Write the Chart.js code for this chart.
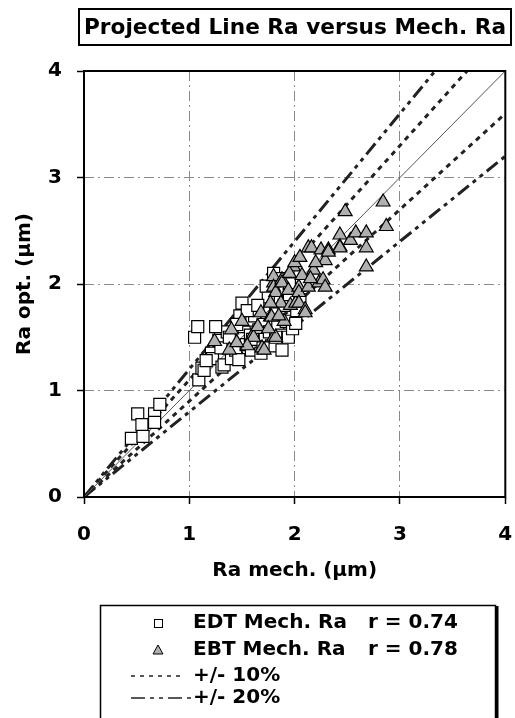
<!DOCTYPE html>
<html>
<head>
<meta charset="utf-8">
<script src="https://cdn.jsdelivr.net/npm/chart.js@4"></script>
<style>
  html, body { margin: 0; padding: 0; background: #fff; }
  #wrap { width: 515px; height: 718px; position: relative; }
</style>
</head>
<body>
<div id="wrap"><canvas id="grafica"></canvas></div>
<script>
const tituloTexto = 'Projected Line Ra versus Mech. Ra';
const ejeX = 'Ra mech. (µm)';
const ejeY = 'Ra opt. (µm)';
const ticks = [0, 1, 2, 3, 4];

// EDT (squares)
const edtX = [0.45, 0.51, 0.55, 0.56, 0.67, 0.67, 0.72,
  1.05, 1.08, 1.09, 1.12, 1.14, 1.21, 1.22, 1.28, 1.31, 1.33, 1.36, 1.40, 1.44, 1.44, 1.47, 1.50, 1.52, 1.54,
  1.57, 1.58, 1.59, 1.62, 1.62, 1.66, 1.68, 1.70, 1.72, 1.75, 1.76, 1.78, 1.80, 1.82, 1.84, 1.86, 1.88, 1.88,
  1.90, 1.92, 1.94, 1.95, 1.98, 2.01, 2.02, 1.25, 1.30, 1.38, 1.48, 1.55, 1.65, 1.73, 1.16, 1.45, 1.60, 1.70,
  1.82, 1.95, 2.05, 1.85];
const edtY = [0.55, 0.78, 0.68, 0.57, 0.78, 0.70, 0.87,
  1.50, 1.60, 1.10, 1.21, 1.19, 1.35, 1.30, 1.47, 1.22, 1.24, 1.55, 1.30, 1.41, 1.38, 1.29, 1.82, 1.60, 1.43,
  1.66, 1.52, 1.38, 1.45, 1.70, 1.57, 1.35, 1.62, 1.48, 1.88, 1.55, 1.42, 2.10, 1.72, 1.60, 1.95, 1.38, 1.52,
  1.80, 1.65, 1.50, 2.00, 1.58, 1.63, 1.75, 1.60, 1.40, 1.50, 1.70, 1.75, 1.80, 1.98, 1.28, 1.62, 1.48, 1.40,
  1.50, 1.90, 1.85, 2.05];

// EBT (triangles)
const ebtX = [1.24, 1.38, 1.40, 1.59, 1.61, 1.68, 1.69, 1.71, 1.77, 1.78, 1.80, 1.82, 1.80, 1.80, 1.80, 1.82,
  1.87, 1.77, 1.88, 1.88, 1.94, 1.96, 1.99, 2.01, 2.04, 2.04, 2.04, 2.07, 2.10, 2.10, 2.13, 2.13, 2.16, 2.18,
  2.23, 2.25, 2.27, 2.29, 2.29, 2.32, 2.32, 2.43, 2.43, 2.43, 2.48, 2.53, 2.58, 2.68, 2.68, 2.68, 2.84, 2.87,
  1.50, 1.55, 1.65, 1.90, 1.95, 2.00, 2.05, 2.20, 1.85, 1.75, 1.45, 2.15];
const ebtY = [1.46, 1.38, 1.57, 1.50, 1.50, 1.73, 1.40, 1.38, 1.69, 1.69, 1.50, 1.50, 2.01, 2.07, 1.97, 1.92,
  1.82, 1.82, 2.04, 2.01, 1.94, 1.80, 2.16, 1.82, 1.97, 1.92, 1.82, 2.08, 1.76, 1.73, 2.34, 1.97, 2.34, 2.13,
  2.01, 2.32, 2.04, 2.22, 1.97, 2.32, 2.30, 2.46, 2.35, 2.34, 2.68, 2.41, 2.48, 2.48, 2.34, 2.16, 2.77, 2.54,
  1.65, 1.42, 1.60, 1.65, 2.10, 2.20, 2.25, 2.20, 1.70, 1.58, 1.45, 2.05];

// reference lines (end points)
const lineaX = [0, 4];
const diagonalY = [0, 4];
const mas10Y = [0, 4.4];
const menos10Y = [0, 3.6];
const mas20Y = [0, 4.8];
const menos20Y = [0, 3.2];

const leyendaTextos = ['EDT Mech. Ra', 'EBT Mech. Ra', '+/- 10%', '+/- 20%'];
const leyendaR = ['r = 0.74', 'r = 0.78'];

const FUENTE = '"DejaVu Sans", "Liberation Sans", Arial, sans-serif';
const pares = (xs, ys) => xs.map((x, i) => ({ x: x, y: ys[i] }));

const dash10 = [5, 5];
const dash20 = [14, 5, 4, 5, 4, 5];

function linea(ys, dash, ancho, color, orden) {
    return {
        data: pares(lineaX, ys),
        showLine: true,
        pointRadius: 0,
        borderColor: color,
        borderWidth: ancho,
        borderDash: dash,
        order: orden
    };
}

const decoracion = {
    id: 'decoracion',
    afterDraw(chart) {
        const { ctx, chartArea: a } = chart;
        ctx.save();
        ctx.strokeStyle = '#000';
        ctx.fillStyle = '#000';

        // title box
        ctx.lineWidth = 2;
        ctx.strokeRect(79, 9, 432, 36);
        ctx.font = 'bold 22px ' + FUENTE;
        ctx.textAlign = 'center';
        ctx.textBaseline = 'middle';
        ctx.fillText(tituloTexto, 295, 28, 422);

        // plot frame
        ctx.lineWidth = 2;
        ctx.strokeRect(a.left, a.top, a.right - a.left, a.bottom - a.top);

        // legend box
        ctx.lineWidth = 1.5;
        ctx.strokeRect(100.5, 605.5, 395, 130);
        ctx.lineWidth = 3;
        ctx.beginPath();
        ctx.moveTo(497, 606);
        ctx.lineTo(497, 718);
        ctx.stroke();

        const filas = [623, 650, 676, 698];
        ctx.font = 'bold 20px ' + FUENTE;
        ctx.textAlign = 'left';
        leyendaTextos.forEach((t, i) => ctx.fillText(t, 193, filas[i]));
        leyendaR.forEach((t, i) => ctx.fillText(t, 368, filas[i]));

        // square marker
        ctx.lineWidth = 1;
        ctx.fillStyle = '#fff';
        ctx.fillRect(154, filas[0] - 4, 8, 8);
        ctx.strokeRect(154.5, filas[0] - 3.5, 8, 8);
        // triangle marker
        ctx.fillStyle = '#b0b0b0';
        ctx.beginPath();
        ctx.moveTo(158, filas[1] - 5);
        ctx.lineTo(163, filas[1] + 4);
        ctx.lineTo(153, filas[1] + 4);
        ctx.closePath();
        ctx.fill();
        ctx.stroke();

        // line markers
        ctx.strokeStyle = '#222';
        ctx.lineWidth = 1.5;
        ctx.setLineDash([4, 5]);
        ctx.beginPath();
        ctx.moveTo(131, filas[2]);
        ctx.lineTo(184, filas[2]);
        ctx.stroke();
        ctx.setLineDash([14, 5, 4, 5, 4, 5]);
        ctx.beginPath();
        ctx.moveTo(131, filas[3]);
        ctx.lineTo(192, filas[3]);
        ctx.stroke();
        ctx.restore();
    }
};

const colorGrid = c => (c.tick && (c.tick.value === 0 || c.tick.value === 4)) ? 'rgba(0,0,0,0)' : '#8a8a8a';
const fuenteEje = { family: FUENTE, size: 20, weight: 'bold' };

const ctx = document.getElementById('grafica');
new Chart(ctx, {
    type: 'scatter',
    data: {
        datasets: [
            {
                label: leyendaTextos[1],
                data: pares(ebtX, ebtY),
                pointStyle: 'triangle',
                pointRadius: 8,
                backgroundColor: '#b0b0b0',
                borderColor: '#000',
                borderWidth: 1.2,
                order: 0
            },
            {
                label: leyendaTextos[0],
                data: pares(edtX, edtY),
                pointStyle: 'rect',
                pointRadius: 8.5,
                backgroundColor: '#fff',
                borderColor: '#000',
                borderWidth: 1.2,
                order: 1
            },
            linea(diagonalY, [], 1, '#555', 2),
            linea(mas10Y, dash10, 3, '#222', 3),
            linea(menos10Y, dash10, 3, '#222', 3),
            linea(mas20Y, dash20, 3, '#222', 4),
            linea(menos20Y, dash20, 3, '#222', 4)
        ]
    },
    options: {
        responsive: true,
        maintainAspectRatio: false,
        animation: false,
        layout: { padding: { top: 71, right: 4, left: 0, bottom: 131 } },
        scales: {
            x: {
                type: 'linear',
                min: 0,
                max: 4,
                afterFit: s => { s.height = 90; s.paddingLeft = 0; s.paddingRight = 0; },
                afterBuildTicks: s => { s.ticks = ticks.map(v => ({ value: v })); },
                ticks: { color: '#000', padding: 19, font: fuenteEje },
                grid: {
                    color: colorGrid,
                    lineWidth: 1,
                    tickLength: 7,
                    tickColor: '#000',
                    tickWidth: 1.5,
                    tickBorderDash: []
                },
                border: { display: false, dash: [10, 4, 2, 4] },
                title: {
                    display: true,
                    text: ejeX,
                    color: '#000',
                    font: fuenteEje,
                    padding: { top: 4, bottom: 4 }
                }
            },
            y: {
                type: 'linear',
                min: 0,
                max: 4,
                afterFit: s => { s.width = 84; s.paddingTop = 0; s.paddingBottom = 0; },
                afterBuildTicks: s => { s.ticks = ticks.map(v => ({ value: v })); },
                ticks: { color: '#000', padding: 15, font: fuenteEje },
                grid: {
                    color: colorGrid,
                    lineWidth: 1,
                    tickLength: 7,
                    tickColor: '#000',
                    tickWidth: 1.5,
                    tickBorderDash: []
                },
                border: { display: false, dash: [10, 4, 2, 4] },
                title: {
                    display: true,
                    text: ejeY,
                    color: '#000',
                    font: fuenteEje,
                    padding: { top: 13, bottom: 0 }
                }
            }
        },
        plugins: {
            legend: { display: false },
            tooltip: { enabled: false }
        }
    },
    plugins: [decoracion]
});
</script>
</body>
</html>
